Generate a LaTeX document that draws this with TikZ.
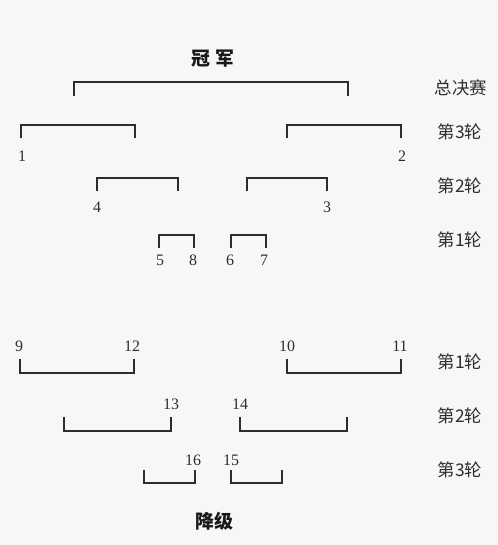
\documentclass[tikz,border=0pt]{standalone}
\usepackage{fontspec}
\setmainfont{Liberation Serif}
\newfontfamily\cjk{Noto Sans CJK SC}
\definecolor{bgc}{RGB}{245,247,248}
\definecolor{ink}{RGB}{45,45,45}
\begin{document}
\begin{tikzpicture}[x=1bp,y=-1bp,
  br/.style={draw=ink,line width=1.3bp},
  num/.style={font=\fontsize{16}{16}\selectfont,text=ink,inner sep=0pt},
  rnd/.style={font=\cjk\fontsize{17.5}{17.5}\selectfont,text=ink,inner sep=0pt},
  ttl/.style={font=\cjk\bfseries\fontsize{19}{19}\selectfont,text=black!90,inner sep=0pt}]
\fill[bgc] (0,0) rectangle (498,545);
\useasboundingbox (0,0) rectangle (498,545);
% titles
\node[ttl] (champ) at (213,59) {冠\hspace{5bp}军};
\node[ttl] (releg) at (214,521) {降级};
% round labels
\node[rnd] (lf) at (461,88) {总决赛};
\node[rnd] (l3) at (460,132) {第3轮};
\node[rnd] (l2) at (460,186) {第2轮};
\node[rnd] (l1) at (460,240) {第1轮};
\node[rnd] (m1) at (460,362) {第1轮};
\node[rnd] (m2) at (460,416) {第2轮};
\node[rnd] (m3) at (460,470) {第3轮};
% upper numbers
\node[num] (n1) at (22,156) {1};
\node[num] (n2) at (402,156) {2};
\node[num] (n4) at (97,207) {4};
\node[num] (n3) at (327,207) {3};
\node[num] (n5) at (160,260) {5};
\node[num] (n8) at (193,260) {8};
\node[num] (n6) at (230,260) {6};
\node[num] (n7) at (264,260) {7};
% lower numbers
\node[num] (n9) at (19,346) {9};
\node[num] (n12) at (132,346) {12};
\node[num] (n10) at (287,346) {10};
\node[num] (n11) at (400,346) {11};
\node[num] (n13) at (171,404) {13};
\node[num] (n14) at (240,404) {14};
\node[num] (n16) at (193,460) {16};
\node[num] (n15) at (231,460) {15};
% upper brackets
\draw[br] (74,96) -- (74,82) -- (348,82) -- (348,96);
\draw[br] (21,138) -- (21,125) -- (135,125) -- (135,138);
\draw[br] (287,138) -- (287,125) -- (401,125) -- (401,138);
\draw[br] (97,191) -- (97,178) -- (178,178) -- (178,191);
\draw[br] (247,191) -- (247,178) -- (327,178) -- (327,191);
\draw[br] (159,248) -- (159,235) -- (194,235) -- (194,248);
\draw[br] (231,248) -- (231,235) -- (266,235) -- (266,248);
% lower brackets
\draw[br] (20,359) -- (20,373) -- (134,373) -- (134,359);
\draw[br] (287,359) -- (287,373) -- (401,373) -- (401,359);
\draw[br] (64,417) -- (64,431) -- (171,431) -- (171,417);
\draw[br] (240,417) -- (240,431) -- (347,431) -- (347,417);
\draw[br] (144,470) -- (144,483) -- (195,483) -- (195,470);
\draw[br] (231,470) -- (231,483) -- (282,483) -- (282,470);
\end{tikzpicture}
\end{document}
